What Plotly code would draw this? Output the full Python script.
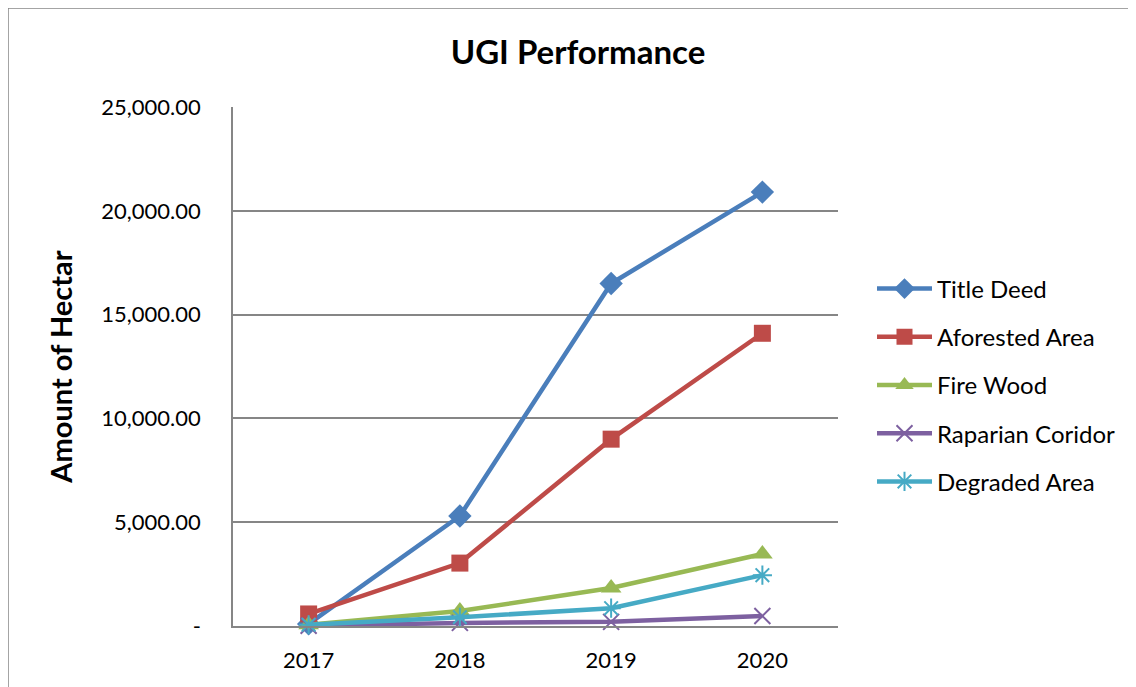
import plotly.graph_objects as go

years = ["2017", "2018", "2019", "2020"]
title_deed = [100, 5300, 16500, 20900]
aforested_area = [580, 3030, 9000, 14100]
fire_wood = [60, 720, 1830, 3470]
raparian_coridor = [10, 150, 200, 480]
degraded_area = [60, 420, 860, 2450]

y_ticks = [0, 5000, 10000, 15000, 20000, 25000]
y_tick_labels = ["-", "5,000.00", "10,000.00", "15,000.00", "20,000.00", "25,000.00"]

series = [
    ("Title Deed", title_deed, "#4A7EBB", "diamond", 18, 0),
    ("Aforested Area", aforested_area, "#BE4B48", "square", 17, 0),
    ("Fire Wood", fire_wood, "#98B954", "triangle-up", 18, 0),
    ("Raparian Coridor", raparian_coridor, "#7D60A0", "x-thin-open", 16, 2),
    ("Degraded Area", degraded_area, "#46AAC5", "asterisk-open", 16, 2),
]

FONT = "Lato, Calibri, Carlito, sans-serif"

fig = go.Figure()
for i, (name, vals, color, sym, size, lw) in enumerate(series):
    marker = dict(symbol=sym, size=size, color=color)
    if lw:
        marker["line"] = dict(color=color, width=lw)
    else:
        marker["line"] = dict(width=0)
    fig.add_trace(go.Scatter(
        x=years, y=vals, name=name, mode="lines+markers",
        line=dict(color=color, width=4.5),
        marker=marker, legendgroup=f"g{i}",
        cliponaxis=False,
    ))

# page has an 8px body margin; figure coordinates = page coordinates - 8
OFF = 8
W, H = 1128, 679
L, R, T, B = 233 - OFF, 838 - OFF, 107 - OFF, 626 - OFF

def px_x(p):
    return (p - OFF - L) / (R - L)

def px_y(p):
    return (B - (p - OFF)) / (B - T)

fig.update_layout(
    width=W, height=H,
    margin=dict(l=L, r=W - R, t=T, b=H - B),
    paper_bgcolor="white", plot_bgcolor="white",
    font=dict(family=FONT, color="#000000", size=22),
    title=dict(text="<b>UGI Performance</b>", x=px_x(578), xref="paper",
               xanchor="center", y=1 - (52 - OFF) / H, yanchor="middle",
               font=dict(size=33, family=FONT)),
    showlegend=True,
    legend=dict(x=px_x(872), y=px_y(385), xanchor="left", yanchor="middle",
                font=dict(size=24, family=FONT), tracegroupgap=14,
                bgcolor="rgba(0,0,0,0)", itemwidth=55),
    xaxis=dict(type="category", range=[-0.5, 3.5], showgrid=False,
               showline=True, linecolor="#868686", linewidth=1.5,
               ticks="", tickfont=dict(size=22), ticklabelstandoff=14,
               zeroline=False),
    yaxis=dict(range=[0, 25000], tickvals=y_ticks, ticktext=y_tick_labels,
               showgrid=True, gridcolor="#868686", gridwidth=1.5,
               showline=True, linecolor="#868686", linewidth=1.5,
               ticks="", tickfont=dict(size=22), ticklabelstandoff=26,
               zeroline=False,
               title=dict(text="<b>Amount of Hectar</b>", font=dict(size=29),
                          standoff=20)),
    shapes=[
        dict(type="line", xref="paper", yref="paper",
             x0=px_x(8), x1=px_x(1140), y0=px_y(8), y1=px_y(8),
             line=dict(color="#868686", width=1.5)),
        dict(type="line", xref="paper", yref="paper",
             x0=px_x(8), x1=px_x(8), y0=px_y(8), y1=px_y(700),
             line=dict(color="#868686", width=1.5)),
    ],
)

fig.write_html("out.html")
